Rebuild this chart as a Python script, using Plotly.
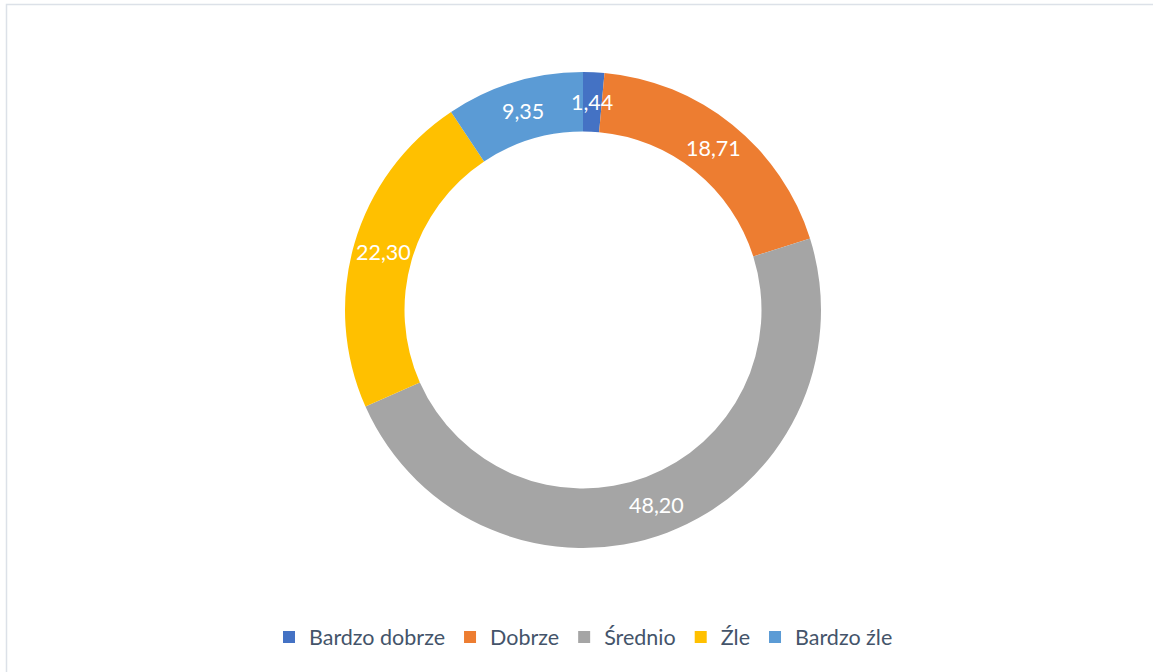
import math
import plotly.graph_objects as go

categories = ["Bardzo dobrze", "Dobrze", "Średnio", "Źle", "Bardzo źle"]
values = [1.44, 18.71, 48.20, 22.30, 9.35]
colors = ["#4472C4", "#ED7D31", "#A5A5A5", "#FFC000", "#5B9BD5"]

W, H = 1153, 672
cx, cy, R = 583, 310, 238
hole = 0.75
FONT = "Lato, Open Sans, sans-serif"

dom_x = [(cx - R) / W, (cx + R) / W]
dom_y = [1 - (cy + R) / H, 1 - (cy - R) / H]

fig = go.Figure(go.Pie(
    labels=categories, values=values, sort=False, direction="clockwise",
    rotation=0, hole=hole, textinfo="none", hoverinfo="label+value",
    marker=dict(colors=colors, line=dict(width=0)),
    domain=dict(x=dom_x, y=dom_y),
))

# data labels at mid-ring radius, angles derived from the values
total = sum(values)
rmid = R * (1 + hole) / 2
cum = 0
for v in values:
    a = (cum + v / 2) / total * 2 * math.pi
    cum += v
    px = cx + rmid * math.sin(a)
    py = cy - rmid * math.cos(a)
    fig.add_annotation(x=px / W, y=1 - py / H, xref="paper", yref="paper",
                       xanchor="center", yanchor="middle",
                       text=f"{v:.2f}".replace(".", ","), showarrow=False,
                       font=dict(family=FONT, size=21.5, color="white"))

fig.add_shape(type="rect", xref="paper", yref="paper",
              x0=6.5 / W, x1=1.02, y0=-0.02, y1=1 - 4.5 / H,
              line=dict(color="#DCE1E8", width=1.5))

fig.update_layout(
    width=W, height=H, margin=dict(l=0, r=0, t=0, b=0),
    paper_bgcolor="white", plot_bgcolor="white",
    showlegend=True,
    legend=dict(orientation="h", x=583.5 / W, xanchor="center", y=1 - 637 / H, yanchor="middle",
                font=dict(family=FONT, size=21.5, color="#44546A"),
                itemsizing="constant", traceorder="normal"),
)

fig.write_html("out.html", config={"displayModeBar": False},
               post_script="document.body.style.margin='0';document.body.style.overflow='hidden';")
